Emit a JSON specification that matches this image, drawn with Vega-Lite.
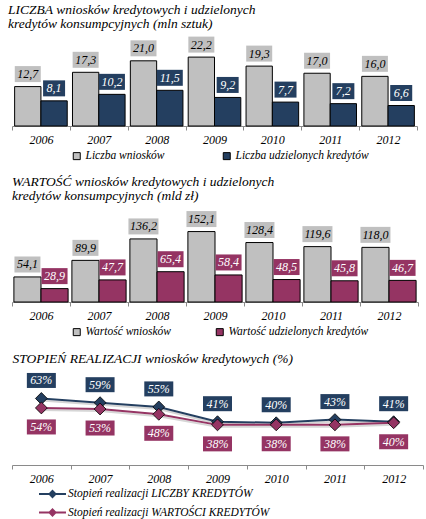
{
  "$schema": "https://vega.github.io/schema/vega-lite/v6.json",
  "padding": {"top": 3, "left": 0, "right": 0, "bottom": 0},
  "background": "white",
  "columns": 1,
  "align": "none",
  "spacing": 13,
  "resolve": {"scale": {"x": "independent", "xOffset": "independent", "y": "independent", "color": "independent", "size": "independent"}, "legend": {"color": "independent"}, "axis": {"x": "independent", "y": "independent"}},
  "datasets": {
    "liczba": [
      {"year": "2006", "series": "Liczba wniosków", "value": 12.7},
      {"year": "2006", "series": "Liczba udzielonych kredytów", "value": 8.1},
      {"year": "2007", "series": "Liczba wniosków", "value": 17.3},
      {"year": "2007", "series": "Liczba udzielonych kredytów", "value": 10.2},
      {"year": "2008", "series": "Liczba wniosków", "value": 21.0},
      {"year": "2008", "series": "Liczba udzielonych kredytów", "value": 11.5},
      {"year": "2009", "series": "Liczba wniosków", "value": 22.2},
      {"year": "2009", "series": "Liczba udzielonych kredytów", "value": 9.2},
      {"year": "2010", "series": "Liczba wniosków", "value": 19.3},
      {"year": "2010", "series": "Liczba udzielonych kredytów", "value": 7.7},
      {"year": "2011", "series": "Liczba wniosków", "value": 17.0},
      {"year": "2011", "series": "Liczba udzielonych kredytów", "value": 7.2},
      {"year": "2012", "series": "Liczba wniosków", "value": 16.0},
      {"year": "2012", "series": "Liczba udzielonych kredytów", "value": 6.6}
    ],
    "wartosc": [
      {"year": "2006", "series": "Wartość wniosków", "value": 54.1},
      {"year": "2006", "series": "Wartość udzielonych kredytów", "value": 28.9},
      {"year": "2007", "series": "Wartość wniosków", "value": 89.9},
      {"year": "2007", "series": "Wartość udzielonych kredytów", "value": 47.7},
      {"year": "2008", "series": "Wartość wniosków", "value": 136.2},
      {"year": "2008", "series": "Wartość udzielonych kredytów", "value": 65.4},
      {"year": "2009", "series": "Wartość wniosków", "value": 152.1},
      {"year": "2009", "series": "Wartość udzielonych kredytów", "value": 58.4},
      {"year": "2010", "series": "Wartość wniosków", "value": 128.4},
      {"year": "2010", "series": "Wartość udzielonych kredytów", "value": 48.5},
      {"year": "2011", "series": "Wartość wniosków", "value": 119.6},
      {"year": "2011", "series": "Wartość udzielonych kredytów", "value": 45.8},
      {"year": "2012", "series": "Wartość wniosków", "value": 118.0},
      {"year": "2012", "series": "Wartość udzielonych kredytów", "value": 46.7}
    ],
    "stopien": [
      {"year": "2006", "series": "Stopień realizacji LICZBY KREDYTÓW", "value": 0.63},
      {"year": "2007", "series": "Stopień realizacji LICZBY KREDYTÓW", "value": 0.59},
      {"year": "2008", "series": "Stopień realizacji LICZBY KREDYTÓW", "value": 0.55},
      {"year": "2009", "series": "Stopień realizacji LICZBY KREDYTÓW", "value": 0.41},
      {"year": "2010", "series": "Stopień realizacji LICZBY KREDYTÓW", "value": 0.40},
      {"year": "2011", "series": "Stopień realizacji LICZBY KREDYTÓW", "value": 0.43},
      {"year": "2012", "series": "Stopień realizacji LICZBY KREDYTÓW", "value": 0.41},
      {"year": "2006", "series": "Stopień realizacji WARTOŚCI KREDYTÓW", "value": 0.54},
      {"year": "2007", "series": "Stopień realizacji WARTOŚCI KREDYTÓW", "value": 0.53},
      {"year": "2008", "series": "Stopień realizacji WARTOŚCI KREDYTÓW", "value": 0.48},
      {"year": "2009", "series": "Stopień realizacji WARTOŚCI KREDYTÓW", "value": 0.38},
      {"year": "2010", "series": "Stopień realizacji WARTOŚCI KREDYTÓW", "value": 0.38},
      {"year": "2011", "series": "Stopień realizacji WARTOŚCI KREDYTÓW", "value": 0.38},
      {"year": "2012", "series": "Stopień realizacji WARTOŚCI KREDYTÓW", "value": 0.40}
    ]
  },
  "config": {
    "font": "Liberation Serif",
    "locale": {"number": {"decimal": ",", "thousands": " ", "grouping": [3], "currency": ["", " zł"], "percent": "%"}},
    "view": {"stroke": null},
    "title": {"font": "Liberation Serif", "fontStyle": "italic", "fontWeight": "normal", "fontSize": 13.5, "anchor": "start", "frame": "group", "color": "#000000", "lineHeight": 13.5, "offset": 6},
    "axisX": {"labelFont": "Liberation Serif", "labelFontStyle": "italic", "labelFontSize": 12, "labelColor": "#000000", "labelAngle": 0, "domainColor": "#8a8a8a", "tickColor": "#8a8a8a", "tickSize": 4, "labelPadding": 4, "tickBand": "extent", "grid": false, "title": null},
    "legend": {"labelFont": "Liberation Serif", "labelFontStyle": "italic", "labelFontSize": 11.5, "labelColor": "#000000", "title": null, "padding": 0, "labelLimit": 400}
  },
  "concat": [
    {
      "width": 405,
      "height": 90,
      "title": {"text": ["LICZBA wniosków kredytowych i udzielonych", "kredytów konsumpcyjnych (mln sztuk)"], "dx": -4},
      "data": {"name": "liczba"},
      "encoding": {
        "x": {"field": "year", "type": "nominal", "scale": {"paddingInner": 0, "paddingOuter": 0}},
        "xOffset": {"field": "series", "sort": ["Liczba wniosków", "Liczba udzielonych kredytów"], "scale": {"paddingInner": 0, "paddingOuter": 0.1}},
        "y": {"field": "value", "type": "quantitative", "scale": {"domain": [0, 29], "nice": false}, "axis": {"title": null, "labels": false, "ticks": false, "domain": false, "grid": false, "minExtent": 9, "maxExtent": 9}}
      },
      "layer": [
        {
          "mark": {"type": "bar", "stroke": "#000000", "strokeWidth": 1, "opacity": 1},
          "encoding": {
            "color": {"field": "series", "type": "nominal", "scale": {"domain": ["Liczba wniosków", "Liczba udzielonych kredytów"], "range": ["#C0C0C0", "#243F60"]},
              "legend": {"orient": "none", "legendX": 59, "legendY": 114, "direction": "horizontal", "symbolType": "square", "symbolSize": 49, "symbolStrokeColor": "#000000", "symbolStrokeWidth": 1, "columnPadding": 56, "labelOffset": 3}}
          }
        },
        {
          "mark": {"type": "tick", "orient": "horizontal", "thickness": 16, "yOffset": -12.5, "opacity": 1},
          "encoding": {
            "color": {"field": "series", "type": "nominal", "legend": null},
            "size": {"condition": {"test": "datum.value < 10", "value": 22}, "value": 26}
          }
        },
        {
          "mark": {"type": "text", "dy": -12.5, "baseline": "middle", "fontStyle": "italic", "fontSize": 12, "font": "Liberation Serif"},
          "encoding": {
            "text": {"field": "value", "type": "quantitative", "format": ".1f"},
            "color": {"condition": {"test": "datum.series === 'Liczba wniosków'", "value": "#000000"}, "value": "#ffffff"}
          }
        }
      ]
    },
    {
      "width": 406,
      "height": 94,
      "title": {"text": ["WARTOŚĆ wniosków kredytowych i udzielonych", "kredytów konsumpcyjnych (mld zł)"], "dx": 0},
      "data": {"name": "wartosc"},
      "encoding": {
        "x": {"field": "year", "type": "nominal", "scale": {"paddingInner": 0, "paddingOuter": 0}},
        "xOffset": {"field": "series", "sort": ["Wartość wniosków", "Wartość udzielonych kredytów"], "scale": {"paddingInner": 0, "paddingOuter": 0.07}},
        "y": {"field": "value", "type": "quantitative", "scale": {"domain": [0, 203], "nice": false}, "axis": {"title": null, "labels": false, "ticks": false, "domain": false, "grid": false, "minExtent": 12, "maxExtent": 12}}
      },
      "layer": [
        {
          "mark": {"type": "bar", "stroke": "#000000", "strokeWidth": 1, "opacity": 1},
          "encoding": {
            "color": {"field": "series", "type": "nominal", "scale": {"domain": ["Wartość wniosków", "Wartość udzielonych kredytów"], "range": ["#C0C0C0", "#953463"]},
              "legend": {"orient": "none", "legendX": 59, "legendY": 118, "direction": "horizontal", "symbolType": "square", "symbolSize": 49, "symbolStrokeColor": "#000000", "symbolStrokeWidth": 1, "columnPadding": 42, "labelOffset": 3}}
          }
        },
        {
          "mark": {"type": "tick", "orient": "horizontal", "thickness": 16, "yOffset": -12.5, "opacity": 1},
          "encoding": {
            "color": {"field": "series", "type": "nominal", "legend": null},
            "size": {"condition": {"test": "datum.value >= 100", "value": 30}, "value": 26}
          }
        },
        {
          "mark": {"type": "text", "dy": -12.5, "baseline": "middle", "fontStyle": "italic", "fontSize": 12, "font": "Liberation Serif"},
          "encoding": {
            "text": {"field": "value", "type": "quantitative", "format": ".1f"},
            "color": {"condition": {"test": "datum.series === 'Wartość wniosków'", "value": "#000000"}, "value": "#ffffff"}
          }
        }
      ]
    },
    {
      "width": 411,
      "height": 94,
      "title": {"text": "STOPIEŃ REALIZACJI wniosków kredytowych (%)", "dx": 0.5},
      "data": {"name": "stopien"},
      "encoding": {
        "x": {"field": "year", "type": "nominal", "scale": {"paddingInner": 0, "paddingOuter": 0}},
        "y": {"field": "value", "type": "quantitative", "scale": {"domain": [0, 0.89], "nice": false}, "axis": {"title": null, "labels": false, "ticks": false, "domain": false, "grid": false, "minExtent": 7, "maxExtent": 7}}
      },
      "layer": [
        {
          "mark": {"type": "line", "strokeWidth": 2, "yOffset": 2, "color": "#d6d6d6", "opacity": 1},
          "encoding": {"detail": {"field": "series"}}
        },
        {
          "mark": {"type": "line", "strokeWidth": 2, "opacity": 1},
          "encoding": {
            "color": {"field": "series", "type": "nominal", "scale": {"domain": ["Stopień realizacji LICZBY KREDYTÓW", "Stopień realizacji WARTOŚCI KREDYTÓW"], "range": ["#243F60", "#953463"]},
              "legend": {"orient": "none", "legendX": 26, "legendY": 117, "direction": "vertical", "symbolType": "M-1,0H4.4M1.7,-0.6L2.3,0L1.7,0.6L1.1,0Z", "symbolSize": 100, "symbolStrokeWidth": 2, "labelOffset": 18, "rowPadding": 4.5,
                "encode": {"symbols": {"update": {"fill": {"scale": "color", "field": "value"}, "stroke": {"scale": "color", "field": "value"}}}}}}
          }
        },
        {
          "mark": {"type": "point", "shape": "diamond", "filled": true, "size": 140, "stroke": "#000000", "strokeWidth": 0.8, "opacity": 1},
          "encoding": {"color": {"field": "series", "type": "nominal", "legend": null}}
        },
        {
          "transform": [{"filter": "datum.series === 'Stopień realizacji LICZBY KREDYTÓW'"}],
          "layer": [
            {"mark": {"type": "tick", "orient": "horizontal", "thickness": 15, "size": 29, "yOffset": -18, "color": "#243F60", "opacity": 1}},
            {"mark": {"type": "text", "dy": -18, "baseline": "middle", "fontStyle": "italic", "fontSize": 12, "color": "#ffffff"},
             "encoding": {"text": {"field": "value", "type": "quantitative", "format": ".0%"}}}
          ]
        },
        {
          "transform": [{"filter": "datum.series === 'Stopień realizacji WARTOŚCI KREDYTÓW'"}],
          "layer": [
            {"mark": {"type": "tick", "orient": "horizontal", "thickness": 15, "size": 29, "yOffset": 19, "color": "#953463", "opacity": 1}},
            {"mark": {"type": "text", "dy": 19, "baseline": "middle", "fontStyle": "italic", "fontSize": 12, "color": "#ffffff"},
             "encoding": {"text": {"field": "value", "type": "quantitative", "format": ".0%"}}}
          ]
        }
      ]
    }
  ]
}
